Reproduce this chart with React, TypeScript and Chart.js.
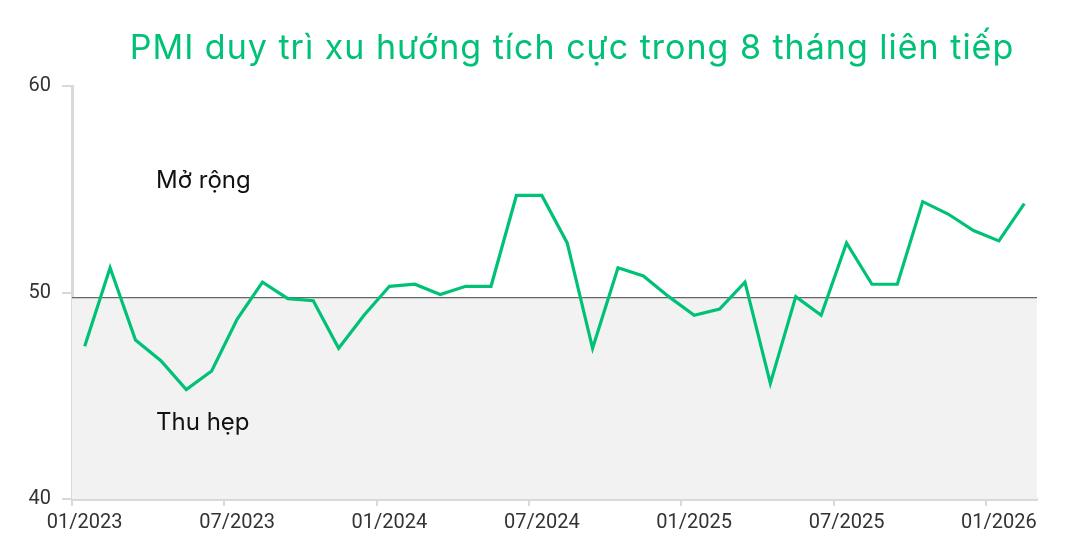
import { useEffect, useRef } from 'react';
import { Chart, registerables } from 'chart.js';

Chart.register(...registerables);

const chartTitle = 'PMI duy trì xu hướng tích cực trong 8 tháng liên tiếp';

const months = [
   '01/2023', '02/2023', '03/2023', '04/2023', '05/2023', '06/2023',
   '07/2023', '08/2023', '09/2023', '10/2023', '11/2023', '12/2023',
   '01/2024', '02/2024', '03/2024', '04/2024', '05/2024', '06/2024',
   '07/2024', '08/2024', '09/2024', '10/2024', '11/2024', '12/2024',
   '01/2025', '02/2025', '03/2025', '04/2025', '05/2025', '06/2025',
   '07/2025', '08/2025', '09/2025', '10/2025', '11/2025', '12/2025',
   '01/2026', '02/2026',
];

const pmiValues = [
   47.4, 51.2, 47.7, 46.7, 45.3, 46.2, 48.7, 50.5, 49.7, 49.6, 47.3, 48.9,
   50.3, 50.4, 49.9, 50.3, 50.3, 54.7, 54.7, 52.4, 47.3, 51.2, 50.8, 49.8,
   48.9, 49.2, 50.5, 45.6, 49.8, 48.9, 52.4, 50.4, 50.4, 54.4, 53.8, 53.0,
   52.5, 54.3,
];

// labels shown every 6 months
const tickLabels = ['01/2023', '07/2023', '01/2024', '07/2024', '01/2025', '07/2025', '01/2026'];
const yTicks = [40, 50, 60];

const threshold = 49.75;
const zoneLabels = [
   { text: 'Mở rộng', value: 55.06 },
   { text: 'Thu hẹp', value: 43.34 },
];

const GREEN = '#00c176';
const AXIS_GRAY = '#d9d9d9';

const zonePlugin = {
   id: 'zones',
   beforeDatasetsDraw(chart: any) {
      const { ctx, chartArea, scales } = chart;
      const yLine = scales.y.getPixelForValue(threshold);
      const yBottom = scales.y.getPixelForValue(40);
      ctx.save();
      ctx.fillStyle = '#f2f2f2';
      ctx.fillRect(chartArea.left, yLine, chartArea.right - chartArea.left, yBottom - yLine);
      ctx.strokeStyle = '#666666';
      ctx.lineWidth = 1.2;
      ctx.beginPath();
      ctx.moveTo(chartArea.left, yLine);
      ctx.lineTo(chartArea.right, yLine);
      ctx.stroke();

      ctx.fillStyle = '#111111';
      ctx.font = '24px Inter';
      ctx.textBaseline = 'alphabetic';
      ctx.textAlign = 'left';
      zoneLabels.forEach(z => {
         ctx.fillText(z.text, chartArea.left + 84, scales.y.getPixelForValue(z.value));
      });
      ctx.restore();
   },
   afterDraw(chart: any) {
      const { ctx } = chart;
      ctx.save();
      ctx.fillStyle = GREEN;
      ctx.font = '34px Inter';
      ctx.letterSpacing = '1px';
      ctx.textAlign = 'center';
      ctx.textBaseline = 'alphabetic';
      ctx.fillText(chartTitle, 572, 59);
      ctx.restore();
   },
};

export default function App() {
   const chartRef = useRef<HTMLCanvasElement>(null);
   const chartInstance = useRef<Chart | null>(null);

   useEffect(() => {
      if (!chartRef.current) return;
      const ctx = chartRef.current.getContext('2d');
      if (!ctx) return;

      if (chartInstance.current) {
         chartInstance.current.destroy();
      }

      chartInstance.current = new Chart(ctx, {
         type: 'line',
         data: {
            labels: months,
            datasets: [{
               label: 'PMI',
               data: pmiValues,
               borderColor: GREEN,
               borderWidth: 3.2,
               pointRadius: 0,
               tension: 0,
               fill: false,
            }],
         },
         options: {
            animation: false,
            responsive: true,
            maintainAspectRatio: false,
            layout: {
               padding: { top: 86, right: 35, left: 0, bottom: 0 },
            },
            plugins: {
               legend: { display: false },
               tooltip: { enabled: false },
            },
            scales: {
               x: {
                  type: 'category',
                  offset: true,
                  afterFit: (s: any) => { s.height = 55; },
                  border: { display: true, color: AXIS_GRAY, width: 3 },
                  grid: {
                     offset: true,
                     drawOnChartArea: false,
                     tickLength: 7,
                     lineWidth: 2,
                     color: (c: any) => (c.index % 6 === 0 && c.index < months.length ? AXIS_GRAY : 'rgba(0,0,0,0)'),
                  },
                  ticks: {
                     autoSkip: false,
                     maxRotation: 0,
                     padding: 5,
                     color: '#333333',
                     font: { family: 'Roboto', size: 20 },
                     callback: (_v: any, i: number) => (tickLabels.includes(months[i]) ? months[i] : ''),
                  },
               },
               y: {
                  min: 40,
                  max: 60,
                  afterFit: (s: any) => { s.width = 72; },
                  afterBuildTicks: (s: any) => { s.ticks = yTicks.map(v => ({ value: v })); },
                  border: { display: true, color: AXIS_GRAY, width: 3 },
                  grid: {
                     drawOnChartArea: false,
                     tickLength: 10,
                     lineWidth: 2,
                     color: AXIS_GRAY,
                  },
                  ticks: {
                     padding: 11,
                     color: '#333333',
                     font: { family: 'Roboto', size: 20 },
                  },
               },
            },
         },
         plugins: [zonePlugin],
      });

      return () => {
         if (chartInstance.current) {
            chartInstance.current.destroy();
            chartInstance.current = null;
         }
      };
   }, []);

   return (
      <div style={{ position: 'fixed', left: 0, top: 0, width: 1072, height: 554, background: '#fff' }}>
         <canvas ref={chartRef}></canvas>
      </div>
   );
}
